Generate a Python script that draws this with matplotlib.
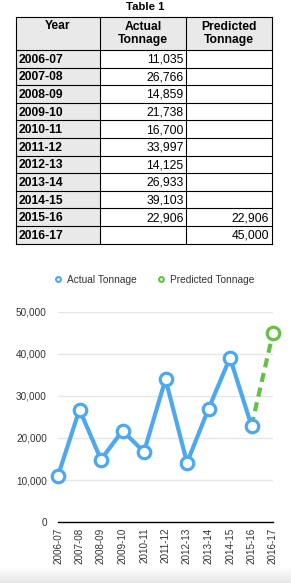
import matplotlib
matplotlib.use("Agg")
import matplotlib.pyplot as plt
from matplotlib.lines import Line2D
import numpy as np

plt.rcParams['font.family'] = ['Liberation Sans', 'DejaVu Sans']

years = ["2006-07", "2007-08", "2008-09", "2009-10", "2010-11", "2011-12",
         "2012-13", "2013-14", "2014-15", "2015-16", "2016-17"]
actual = [11035, 26766, 14859, 21738, 16700, 33997, 14125, 26933, 39103, 22906, None]
predicted = [None, None, None, None, None, None, None, None, None, 22906, 45000]
y_ticks = [0, 10000, 20000, 30000, 40000, 50000]

BLUE = "#4DA8F0"
GREEN = "#67BE48"
TXT = "#333333"

W, H = 291, 583
fig = plt.figure(figsize=(W / 100, H / 100), dpi=100)

# ---------- table (pixel coordinates) ----------
tax = fig.add_axes([0, 0, 1, 1])
tax.set_xlim(0, W)
tax.set_ylim(H, 0)
tax.axis("off")

cols = [16, 100, 186, 271.5]
top, head_bot, bot = 16.5, 50.0, 243.5
nrows = len(years)
rh = (bot - head_bot) / nrows
gray = "#e9e9e9"
FS = 8.7

tax.add_patch(plt.Rectangle((cols[0], top), cols[3] - cols[0], head_bot - top, color=gray, lw=0))
tax.add_patch(plt.Rectangle((cols[0], head_bot), cols[1] - cols[0], bot - head_bot, color=gray, lw=0))

for xc in cols:
    tax.plot([xc, xc], [top, bot], color="black", lw=0.8)
tax.plot([cols[0], cols[3]], [top, top], color="black", lw=0.8)
tax.plot([cols[0], cols[3]], [head_bot, head_bot], color="black", lw=0.8)
for i in range(nrows):
    yb = head_bot + (i + 1) * rh
    tax.plot([cols[0], cols[3]], [yb, yb], color="black", lw=0.8)

tax.text(145, 7.5, "Table 1", ha="center", va="center", fontsize=8.2, fontweight="bold")
hy = 33.5
tax.text((cols[0] + cols[1]) / 2, 26, "Year", ha="center", va="center", fontsize=FS, fontweight="bold")
tax.text((cols[1] + cols[2]) / 2, hy, "Actual\nTonnage", ha="center", va="center", fontsize=FS,
         fontweight="bold", linespacing=1.2)
tax.text((cols[2] + cols[3]) / 2, hy, "Predicted\nTonnage", ha="center", va="center", fontsize=FS,
         fontweight="bold", linespacing=1.2)

for i, (yr, a, p) in enumerate(zip(years, actual, predicted)):
    yc = head_bot + (i + 0.5) * rh + 1.0
    tax.text(cols[0] + 2.5, yc, yr, ha="left", va="center", fontsize=FS, fontweight="bold")
    if a is not None:
        tax.text(cols[2] - 2.5, yc, f"{a:,}", ha="right", va="center", fontsize=FS)
    if p is not None:
        tax.text(cols[3] - 2.5, yc, f"{p:,}", ha="right", va="center", fontsize=FS)

# ---------- chart ----------
left, right = 58, 273
ytop, ybot = 312, 522
ax = fig.add_axes([left / W, 1 - ybot / H, (right - left) / W, (ybot - ytop) / H])
x = np.arange(len(years))

a_x = [i for i, v in enumerate(actual) if v is not None]
a_y = [v for v in actual if v is not None]
p_x = [i for i, v in enumerate(predicted) if v is not None]
p_y = [v for v in predicted if v is not None]

ax.plot(p_x, p_y, color=GREEN, lw=3, dashes=(2.2, 1.4), zorder=3, clip_on=False)
ax.plot(p_x[-1:], p_y[-1:], "o", color=GREEN, mfc="white", mec=GREEN, ms=9, mew=2.3,
        zorder=5, clip_on=False)
ax.plot(a_x, a_y, color=BLUE, lw=3, marker="o", mfc="white", mec=BLUE, ms=9, mew=2.3,
        zorder=4, clip_on=False, solid_joinstyle="round")

ax.set_xlim(0, len(years) - 1)
ax.set_ylim(0, 50000)
ax.set_yticks(y_ticks)
ax.set_yticklabels([f"{v:,}" for v in y_ticks])
ax.set_xticks(x)
ax.set_xticklabels(years, rotation=90)
ax.tick_params(axis="y", length=0, pad=8, labelsize=7.2, labelcolor=TXT)
ax.tick_params(axis="x", length=0, pad=4, labelsize=7.1, labelcolor=TXT)
ax.grid(axis="y", color="#e6e6e6", lw=1)
ax.set_axisbelow(True)
for s in ["top", "left", "right"]:
    ax.spines[s].set_visible(False)
ax.spines["bottom"].set_color("black")
ax.spines["bottom"].set_linewidth(1)
ax.spines["bottom"].set_zorder(2)

handles = [
    Line2D([], [], ls="none", marker="o", mfc="white", mec=BLUE, ms=3.5, mew=1.5, label="Actual Tonnage"),
    Line2D([], [], ls="none", marker="o", mfc="white", mec=GREEN, ms=3.5, mew=1.5, label="Predicted Tonnage"),
]
fig.legend(handles=handles, loc="center", bbox_to_anchor=(154 / W, 1 - 280 / H), ncol=2,
           frameon=False, fontsize=7.3, handlelength=0.8, handletextpad=0.45, columnspacing=2.0,
           labelcolor=TXT)

# bottom fade
gax = fig.add_axes([0, 0, 1, 16 / H])
grad = np.linspace(1, 0.9, 50).reshape(-1, 1)
gax.imshow(grad, aspect="auto", cmap="gray", vmin=0, vmax=1, extent=[0, 1, 0, 1], origin="upper")
gax.axis("off")

fig.savefig("out.png", dpi=100)
